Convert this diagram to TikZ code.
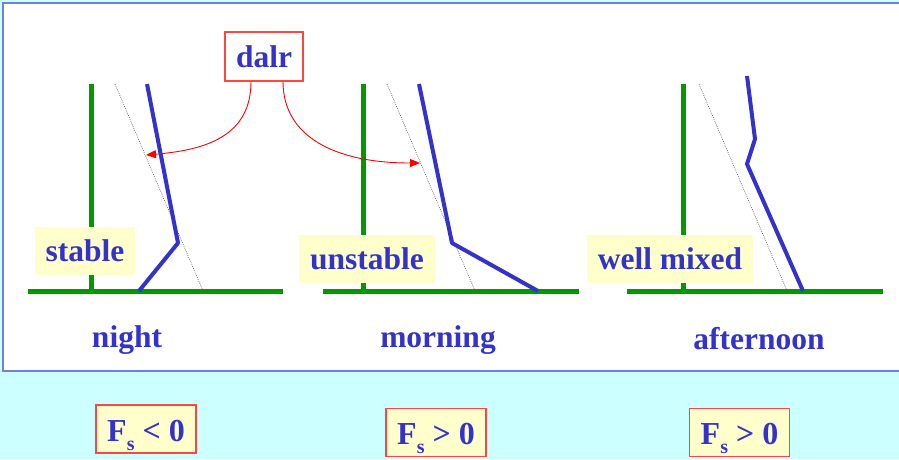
\documentclass[tikz,border=0pt]{standalone}
\usepackage{fontspec}
\setmainfont{Liberation Serif}
\usetikzlibrary{arrows.meta}
\definecolor{bgcyan}{HTML}{CCFFFF}
\definecolor{panelborder}{HTML}{7080E0}
\definecolor{txtblue}{HTML}{3333CC}
\definecolor{lineblue}{HTML}{3333CC}
\definecolor{grn}{HTML}{009900}
\definecolor{yel}{HTML}{FFFFCC}
\definecolor{redb}{HTML}{FF4444}
\tikzset{
  lbl/.style={font=\fontsize{31.5}{36}\selectfont\bfseries, text=txtblue, inner sep=0pt},
  ybox/.style={lbl, fill=yel, minimum height=48pt, anchor=center},
  fbox/.style={draw=redb, line width=1.2pt, fill=yel, minimum width=100pt, minimum height=48pt, inner sep=0pt},
  ftext/.style={font=\fontsize{32}{36}\selectfont\bfseries, text=txtblue, inner sep=0pt, anchor=base},
  axis/.style={grn, line width=5pt},
  prof/.style={lineblue, line width=4pt, line join=round},
  adiab/.style={black!70, line width=0.6pt, dash pattern=on 0.8pt off 1.2pt},
  redarrow/.style={red, line width=0.9pt, -{Triangle[length=10pt,width=8pt]}},
}
\newcommand{\fslabel}[1]{F\raisebox{-9pt}{\fontsize{20}{20}\selectfont s} #1 0}
\begin{document}
\begin{tikzpicture}[x=1pt,y=-1pt]
\useasboundingbox (0,0) rectangle (899,459);
\fill[bgcyan] (0,0) rectangle (899,459);
\draw[panelborder, fill=white, line width=1.5pt] (3,3) rectangle (905,371);

% panel 1: night
\draw[axis] (91,84) -- (91,291);
\draw[axis] (28,291) -- (283,291);
\draw[adiab] (115,84) -- (203,291);
\draw[prof] (147,84) -- (178,243) -- (139,291);
\node[ybox, minimum width=100pt] (stable) at (85,251) {stable};
\node[lbl, anchor=base] (night) at (127,347) {night};

% panel 2: morning
\draw[axis] (363,84) -- (363,291);
\draw[axis] (323,291) -- (579,291);
\draw[adiab] (387,84) -- (475,291);
\draw[prof] (419,84) -- (452,243) -- (538,291);
\node[ybox, minimum width=136pt] (unstable) at (367,259) {unstable};
\node[lbl, anchor=base] (morning) at (438,347) {morning};

% panel 3: afternoon
\draw[axis] (683,84) -- (683,291);
\draw[axis] (627,291) -- (883,291);
\draw[adiab] (699,84) -- (787,291);
\draw[prof] (747,76) -- (755,139) -- (747,164) -- (803,291);
\node[ybox, minimum width=166pt] (wellmixed) at (670,259) {well mixed};
\node[lbl, anchor=base] (afternoon) at (759,349) {afternoon};

% dalr box and arrows
\node[lbl, draw=redb, line width=1.2pt, fill=white, minimum width=78pt, minimum height=49pt] (dalr) at (264,56.5) {dalr};
\coordinate (t1) at (146,155);
\coordinate (t2) at (420,163);
\draw[redarrow] ([xshift=-13pt]dalr.south) .. controls +(0,55) and (205,150) .. (t1);
\draw[redarrow] ([xshift=19pt]dalr.south) .. controls +(0,55) and (335,163) .. (t2);

% flux boxes
\node[fbox] (f1) at (146,429) {};
\node[ftext] (f1t) at ([yshift=-12pt]f1.center) {\fslabel{<}};
\node[fbox] (f2) at (436,432.5) {};
\node[ftext] (f2t) at ([yshift=-12pt]f2.center) {\fslabel{>}};
\node[fbox] (f3) at (739.5,432.5) {};
\node[ftext] (f3t) at ([yshift=-12pt]f3.center) {\fslabel{>}};
\end{tikzpicture}
\end{document}
